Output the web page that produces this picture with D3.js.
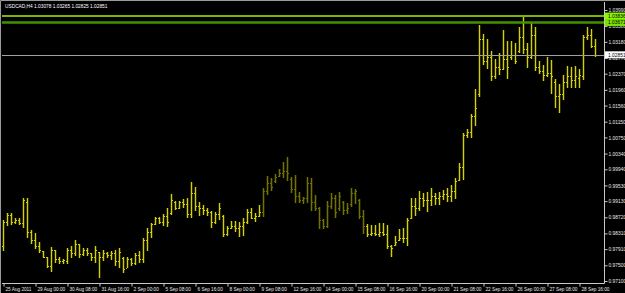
<!DOCTYPE html>
<html>
<head>
<meta charset="utf-8">
<script src="https://cdn.jsdelivr.net/npm/d3@7/dist/d3.min.js"></script>
<style>
  html, body { margin: 0; padding: 0; background: #000; }
  svg { display: block; }
  .axis text { font-family: "Liberation Sans", Arial, sans-serif; fill: #e8e8e8; }
  .axis line, .axis path { stroke: #c8c8c8; }
</style>
</head>
<body>
<svg id="chart" width="625" height="293"></svg>
<script>
// chart values (H4 bars, oldest first)
var symbolTitle = "USDCAD,H4 1.03078 1.03265 1.02825 1.02851";

var openPrices = [
  0.98000, 0.98600, 0.98780, 0.98600, 0.98650, 0.98580, 0.99100, 0.98350, 0.98150, 0.98000,
  0.97870, 0.97700, 0.97480, 0.97880, 0.97650, 0.97600, 0.97620, 0.97900, 0.97800, 0.98030,
  0.97780, 0.97880, 0.97800, 0.97700, 0.97840, 0.97700, 0.97800, 0.97750, 0.97800, 0.97600,
  0.97680, 0.97420, 0.97650, 0.97550, 0.97750, 0.97650, 0.98150, 0.98350, 0.98560, 0.98700,
  0.98600, 0.98750, 0.98820, 0.99100, 0.98950, 0.99100, 0.99050, 0.98800, 0.99350, 0.99000,
  0.98950, 0.98900, 0.98850, 0.98600, 0.98800, 0.98750, 0.98300, 0.98450, 0.98500, 0.98450,
  0.98500, 0.98600, 0.98850, 0.98700, 0.98750, 0.98850, 0.99400, 0.99600, 0.99650, 0.99780,
  0.99850, 0.99900, 0.99700, 0.99450, 0.99250, 0.99150, 0.99200, 0.99600, 0.99100, 0.98950,
  0.98650, 0.98500, 0.99000, 0.99200, 0.98950, 0.99100, 0.98900, 0.99050, 0.99350, 0.99150,
  0.98750, 0.98500, 0.98300, 0.98310, 0.98300, 0.98350, 0.98300, 0.98000, 0.98020, 0.98150,
  0.98200, 0.98200, 0.98700, 0.99000, 0.98950, 0.99200, 0.99150, 0.99150, 0.99250, 0.99200,
  0.99250, 0.99300, 0.99250, 0.99400, 0.99680, 1.00000, 1.00800, 1.00900, 1.01300, 1.01850,
  1.03250, 1.02700, 1.02800, 1.02300, 1.02550, 1.02500, 1.02750, 1.02800, 1.02850, 1.02950,
  1.03300, 1.03000, 1.02800, 1.03350, 1.02550, 1.02450, 1.02350, 1.02400, 1.02150, 1.01800,
  1.01850, 1.02150, 1.02300, 1.02200, 1.02250, 1.02300, 1.03300, 1.03350, 1.03078
];

var highPrices = [
  0.98652, 0.98822, 0.98822, 0.98695, 0.98695, 0.99203, 0.99203, 0.98397, 0.98314, 0.98100,
  0.97871, 0.97703, 0.97973, 0.97889, 0.97703, 0.97668, 0.97932, 0.97991, 0.98143, 0.98042,
  0.97932, 0.97932, 0.97820, 0.97991, 0.97846, 0.97889, 0.97846, 0.97871, 0.97889, 0.97932,
  0.97703, 0.97719, 0.97678, 0.97805, 0.97871, 0.98186, 0.98441, 0.98568, 0.98720, 0.98736,
  0.98804, 0.98949, 0.99313, 0.99135, 0.99142, 0.99178, 0.99203, 0.99625, 0.99483, 0.99117,
  0.99033, 0.98949, 0.98888, 0.98863, 0.99091, 0.98779, 0.98499, 0.98626, 0.98626, 0.98608,
  0.98695, 0.98931, 0.98949, 0.98822, 0.99033, 0.99457, 0.99770, 0.99712, 0.99821, 0.99940,
  1.00134, 1.00245, 0.99752, 0.99796, 0.99371, 0.99244, 0.99752, 0.99712, 0.99287, 0.98990,
  0.98669, 0.99142, 0.99346, 0.99287, 0.99371, 0.99142, 0.99091, 0.99457, 0.99440, 0.99178,
  0.98906, 0.98550, 0.98525, 0.98525, 0.98583, 0.98568, 0.98525, 0.98016, 0.98245, 0.98415,
  0.98441, 0.98695, 0.99203, 0.99203, 0.99396, 0.99346, 0.99371, 0.99457, 0.99346, 0.99371,
  0.99414, 0.99457, 0.99541, 0.99712, 1.00108, 1.00856, 1.00957, 1.01346, 1.01974, 1.03609,
  1.03380, 1.03245, 1.02955, 1.02737, 1.02904, 1.03481, 1.03209, 1.03209, 1.03143, 1.03550,
  1.03820, 1.03159, 1.03667, 1.03550, 1.02701, 1.02592, 1.02787, 1.02719, 1.02228, 1.02109,
  1.02338, 1.02566, 1.02533, 1.02566, 1.02482, 1.03354, 1.03550, 1.03499, 1.03265
];

var lowPrices = [
  0.97889, 0.98525, 0.98550, 0.98583, 0.98550, 0.98481, 0.98227, 0.98059, 0.97932, 0.97846,
  0.97703, 0.97449, 0.97363, 0.97592, 0.97566, 0.97566, 0.97551, 0.97703, 0.97762, 0.97703,
  0.97762, 0.97762, 0.97635, 0.97592, 0.97210, 0.97635, 0.97703, 0.97653, 0.97508, 0.97465,
  0.97337, 0.97465, 0.97508, 0.97533, 0.97592, 0.97592, 0.97889, 0.98227, 0.98550, 0.98568,
  0.98525, 0.98499, 0.98804, 0.98924, 0.98949, 0.98990, 0.98736, 0.98736, 0.98906, 0.98779,
  0.98804, 0.98779, 0.98481, 0.98568, 0.98669, 0.98253, 0.98270, 0.98441, 0.98380, 0.98253,
  0.98270, 0.98583, 0.98695, 0.98634, 0.98753, 0.98753, 0.99313, 0.99414, 0.99625, 0.99770,
  0.99752, 0.99668, 0.99371, 0.99117, 0.99102, 0.99076, 0.99117, 0.98906, 0.98906, 0.98441,
  0.98441, 0.98481, 0.98949, 0.98736, 0.98906, 0.98804, 0.98837, 0.99008, 0.99076, 0.98695,
  0.98329, 0.98245, 0.98270, 0.98270, 0.98245, 0.98270, 0.97932, 0.97737, 0.98016, 0.98143,
  0.98100, 0.98016, 0.98695, 0.98779, 0.98906, 0.99008, 0.98888, 0.99033, 0.99058, 0.99058,
  0.99178, 0.99142, 0.99142, 0.99203, 0.99668, 0.99686, 1.00769, 1.00769, 1.01067, 1.01804,
  1.02617, 1.02508, 1.02210, 1.02254, 1.02363, 1.02482, 1.02254, 1.02737, 1.02635, 1.02930,
  1.02889, 1.02549, 1.02762, 1.02465, 1.02381, 1.02211, 1.02312, 1.01872, 1.01532, 1.01405,
  1.01720, 1.02025, 1.02025, 1.02025, 1.02025, 1.02228, 1.03245, 1.03042, 1.02825
];

var closePrices = [
  0.98600, 0.98780, 0.98600, 0.98650, 0.98580, 0.99150, 0.98350, 0.98150, 0.98000, 0.97880,
  0.97720, 0.97480, 0.97900, 0.97650, 0.97600, 0.97640, 0.97900, 0.97800, 0.98050, 0.97780,
  0.97880, 0.97800, 0.97700, 0.97900, 0.97700, 0.97800, 0.97750, 0.97800, 0.97600, 0.97850,
  0.97400, 0.97650, 0.97550, 0.97750, 0.97650, 0.98150, 0.98350, 0.98550, 0.98700, 0.98600,
  0.98750, 0.98600, 0.99150, 0.98950, 0.99100, 0.99050, 0.98800, 0.99350, 0.99000, 0.98950,
  0.98900, 0.98850, 0.98600, 0.98800, 0.98950, 0.98300, 0.98450, 0.98500, 0.98450, 0.98500,
  0.98600, 0.98850, 0.98700, 0.98750, 0.98850, 0.99400, 0.99600, 0.99500, 0.99750, 0.99850,
  0.99900, 0.99850, 0.99450, 0.99250, 0.99150, 0.99200, 0.99600, 0.99100, 0.98950, 0.98650,
  0.98500, 0.99000, 0.99200, 0.98850, 0.99250, 0.98900, 0.98950, 0.99350, 0.99400, 0.98750,
  0.98500, 0.98300, 0.98310, 0.98300, 0.98350, 0.98300, 0.98000, 0.97950, 0.98100, 0.98200,
  0.98200, 0.98650, 0.99000, 0.98950, 0.99200, 0.99150, 0.99150, 0.99250, 0.99200, 0.99250,
  0.99300, 0.99250, 0.99400, 0.99650, 1.00000, 1.00800, 1.00900, 1.01300, 1.01500, 1.03250,
  1.02700, 1.02800, 1.02300, 1.02550, 1.02500, 1.02750, 1.02550, 1.02850, 1.02700, 1.03300,
  1.03000, 1.02800, 1.03350, 1.02550, 1.02450, 1.02350, 1.02400, 1.02300, 1.01800, 1.01850,
  1.02150, 1.02300, 1.02200, 1.02300, 1.02350, 1.03300, 1.03350, 1.03080, 1.02851
];

// bars drawn in the faded colour (first and last index)
var fadedBars = [65, 90];

var timeLabels = [
  "25 Aug 2011", "29 Aug 00:00", "30 Aug 08:00", "31 Aug 16:00", "2 Sep 00:00",
  "5 Sep 08:00", "6 Sep 16:00", "8 Sep 00:00", "9 Sep 08:00", "12 Sep 16:00",
  "14 Sep 00:00", "15 Sep 08:00", "16 Sep 16:00", "20 Sep 00:00", "21 Sep 08:00",
  "22 Sep 16:00", "26 Sep 00:00", "27 Sep 08:00", "28 Sep 16:00"
];
var labelBars = [0, 8, 16, 24, 32, 40, 48, 56, 64, 72, 80, 88, 96, 104, 112, 120, 128, 136, 144];

var priceTicks = [
  1.03990, 1.03580, 1.03180, 1.02770, 1.02370, 1.01960, 1.01560, 1.01150, 1.00750,
  1.00340, 0.99940, 0.99530, 0.99130, 0.98720, 0.98310, 0.97910, 0.97500, 0.97100
];

var levelPrices = [1.03836, 1.03671];
var bidPrice = 1.02851;

var params = {
  "svg": { "width": 625, "height": 293 },
  "plot": { "left": 2, "right": 604, "top": 2, "bottom": 283 }
};

var svg = d3.select("#chart");
var n = closePrices.length;

var x = d3.scaleLinear().domain([0, n - 1]).range([3, 595]);
var y = d3.scaleLinear().domain([0.97100, 1.03990]).range([281, 10]);
var px = function(i) { return Math.round(x(i)); };
var py = function(v) { return Math.round(y(v)); };

svg.append("rect")
  .attr("width", params.svg.width)
  .attr("height", params.svg.height)
  .attr("fill", "#000");

// window frame
svg.append("path")
  .attr("d", "M0.5," + params.svg.height + "V0.5H" + params.svg.width)
  .attr("stroke", "#9a9a9a")
  .attr("fill", "none");

// title
svg.append("text")
  .attr("x", 5)
  .attr("y", 8)
  .attr("font-family", "Liberation Sans, Arial, sans-serif")
  .attr("font-size", 4.8)
  .attr("fill", "#ffffff")
  .text(symbolTitle);

// bars
var bars = d3.range(n).map(function(i) {
  return {
    "i": i,
    "o": openPrices[i], "h": highPrices[i], "l": lowPrices[i], "c": closePrices[i],
    "faded": i >= fadedBars[0] && i <= fadedBars[1]
  };
});

var barColor = function(d) { return d.faded ? "#727200" : "#d2d200"; };
var glowColor = function(d) { return d.faded ? "#1e1e00" : "#2c2c00"; };

var g = svg.append("g").attr("shape-rendering", "crispEdges");

var bar = g.selectAll("g.bar")
  .data(bars)
  .enter()
  .append("g")
  .attr("class", "bar");

// soft olive fringe like the screenshot's colour bleed
bar.append("rect")
  .attr("x", function(d) { return px(d.i) - 1; })
  .attr("y", function(d) { return py(d.h); })
  .attr("width", 3)
  .attr("height", function(d) { return py(d.l) - py(d.h) + 1; })
  .attr("fill", glowColor);

bar.append("rect")
  .attr("x", function(d) { return px(d.i); })
  .attr("y", function(d) { return py(d.h); })
  .attr("width", 1)
  .attr("height", function(d) { return py(d.l) - py(d.h) + 1; })
  .attr("fill", barColor);

bar.append("rect")
  .attr("x", function(d) { return px(d.i) - 1; })
  .attr("y", function(d) { return py(d.o); })
  .attr("width", 1)
  .attr("height", 1)
  .attr("fill", barColor);

bar.append("rect")
  .attr("x", function(d) { return px(d.i) + 1; })
  .attr("y", function(d) { return py(d.c); })
  .attr("width", 1)
  .attr("height", 1)
  .attr("fill", barColor);

// horizontal levels
var levelColors = ["#a8f000", "#3f9400"];
var levelWidths = [1.5, 2.5];
levelPrices.forEach(function(p, k) {
  svg.append("line")
    .attr("x1", params.plot.left)
    .attr("x2", params.plot.right)
    .attr("y1", y(p))
    .attr("y2", y(p))
    .attr("stroke", levelColors[k])
    .attr("stroke-width", levelWidths[k]);
});

svg.append("line")
  .attr("x1", params.plot.left)
  .attr("x2", params.plot.right)
  .attr("y1", py(bidPrice) + 0.5)
  .attr("y2", py(bidPrice) + 0.5)
  .attr("stroke", "#a0a0a0")
  .attr("stroke-width", 1);

// price axis (right)
var yAxis = d3.axisRight(y)
  .tickValues(priceTicks)
  .tickSize(3)
  .tickPadding(1)
  .tickFormat(d3.format(".5f"));

var gy = svg.append("g")
  .attr("class", "axis")
  .attr("transform", "translate(" + (params.plot.right + 0.5) + ",0)")
  .call(yAxis);
gy.select(".domain").remove();
gy.selectAll("text").attr("font-size", 4.9);

// time axis (bottom)
var xAxis = d3.axisBottom(x)
  .tickValues(labelBars)
  .tickSize(3)
  .tickPadding(1)
  .tickFormat(function(d, i) { return timeLabels[i]; });

var gx = svg.append("g")
  .attr("class", "axis")
  .attr("transform", "translate(0," + (params.plot.bottom + 0.5) + ")")
  .call(xAxis);
gx.select(".domain").remove();
gx.selectAll(".tick line").attr("transform", "translate(0.5,0)");
gx.selectAll("text")
  .attr("text-anchor", "start")
  .attr("dx", 2)
  .attr("font-size", 4.7);

// plot border lines
svg.append("path")
  .attr("d", "M" + params.plot.left + "," + (params.plot.bottom + 0.5) +
             "H" + (params.plot.right + 0.5) + "V" + params.plot.top)
  .attr("stroke", "#c8c8c8")
  .attr("fill", "none");

// price labels on the right edge
var tags = [
  { "p": levelPrices[0], "fill": "#8cf500" },
  { "p": levelPrices[1], "fill": "#7ae000" },
  { "p": bidPrice, "fill": "#ffffff" }
];
var tag = svg.selectAll("g.tag")
  .data(tags)
  .enter()
  .append("g")
  .attr("class", "tag")
  .attr("transform", function(d) { return "translate(" + (params.plot.right + 1) + "," + y(d.p) + ")"; });

tag.append("rect")
  .attr("x", 0)
  .attr("y", -3.5)
  .attr("width", 20)
  .attr("height", 7)
  .attr("fill", function(d) { return d.fill; });

tag.append("text")
  .attr("x", 3)
  .attr("y", 1.8)
  .attr("font-family", "Liberation Sans, Arial, sans-serif")
  .attr("font-size", 4.9)
  .attr("fill", "#000")
  .text(function(d) { return d3.format(".5f")(d.p); });
</script>
</body>
</html>
